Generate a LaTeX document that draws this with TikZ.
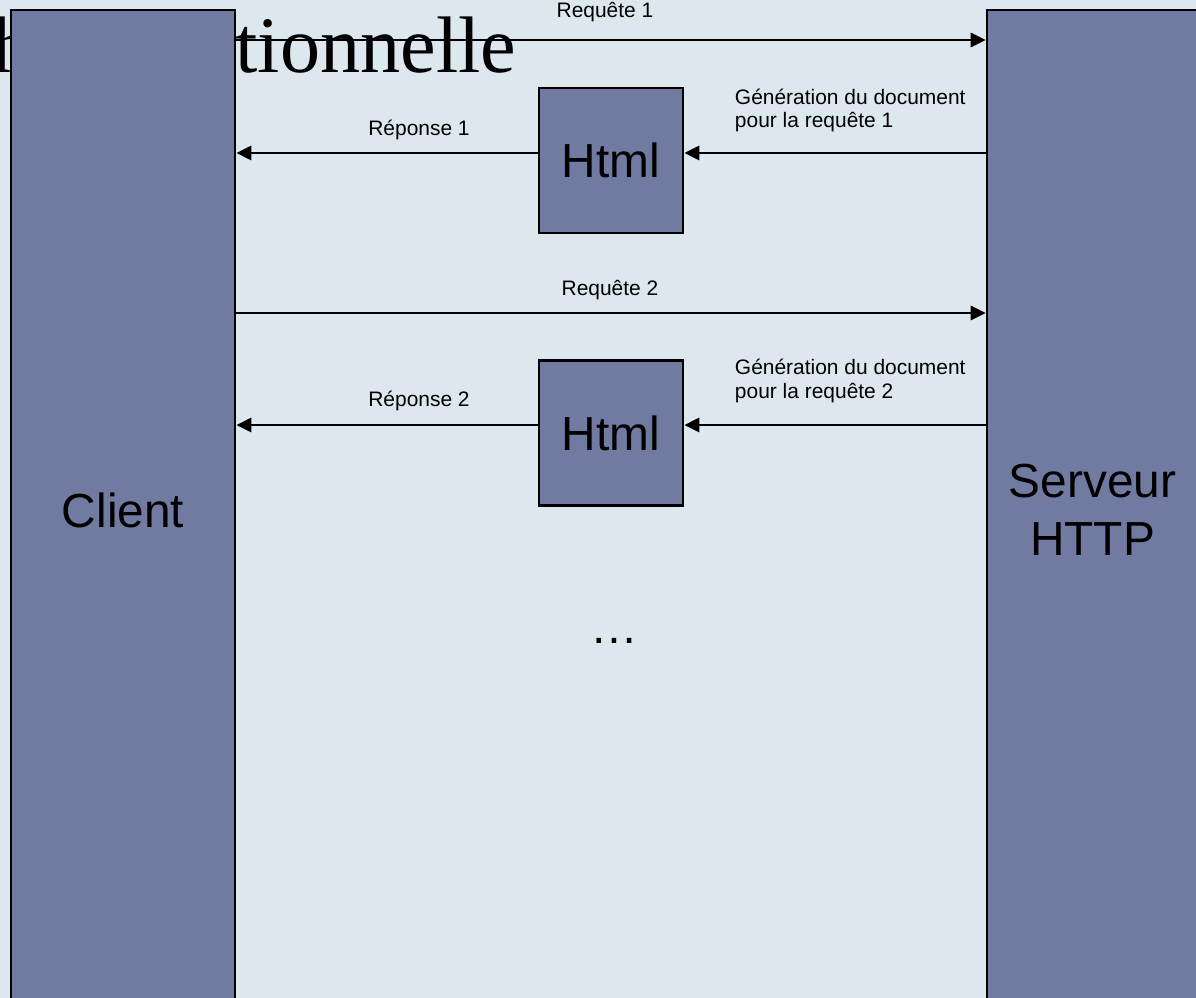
\documentclass[tikz,border=0pt]{standalone}
\usepackage{fontspec}
\setmainfont{Liberation Sans}
\newfontfamily\titrefont{Liberation Serif}
\usetikzlibrary{arrows.meta}
\definecolor{fondbleu}{RGB}{221,232,238}
\definecolor{boitebleu}{RGB}{113,122,161}
\begin{document}
\begin{tikzpicture}[x=0.025cm, y=-0.025cm, >={Triangle[length=10.6pt,width=10pt]}, font=\fontsize{14.9}{16.7}\selectfont]
	\tikzset{boite/.style={draw=black, line width=1.9pt, fill=boitebleu, inner sep=0pt, align=center, font=\fontsize{34}{41}\selectfont},
		fleche/.style={->, line width=1.8pt}}
	\fill[fondbleu] (0,0) rectangle (1196,998);
	\useasboundingbox (0,0) rectangle (1196,998);
	\node[anchor=base east, font=\titrefont\fontsize{57}{60}\selectfont] (titre) at (521,73) {Approche traditionnelle};
	\node[boite, minimum width=5.6cm, minimum height=25cm] (client) at (123,510) {Client};
	\node[boite, minimum width=5.275cm, minimum height=25cm] (serveur) at (1092.5,510) {Serveur\\HTTP};
	\node[boite, minimum width=3.6cm, minimum height=3.625cm] (html1) at (611,160.5) {Html};
	\node[boite, minimum width=3.6cm, minimum height=3.625cm] (html2) at (611,433) {Html};
	\draw[fleche] (client.east |- 0,40) -- (serveur.west |- 0,40);
	\draw[fleche] (serveur.west |- 0,153) -- (html1.east |- 0,153);
	\draw[fleche] (html1.west |- 0,153) -- (client.east |- 0,153);
	\draw[fleche] (client.east |- 0,313) -- (serveur.west |- 0,313);
	\draw[fleche] (serveur.west |- 0,425) -- (html2.east |- 0,425);
	\draw[fleche] (html2.west |- 0,425) -- (client.east |- 0,425);
	\node (req1) at (605,12) {Requête 1};
	\node (rep1) at (419,130) {Réponse 1};
	\node[anchor=west, align=left] (gen1) at (730,110.5) {Génération du document\\pour la requête 1};
	\node (req2) at (610,290) {Requête 2};
	\node (rep2) at (419,401) {Réponse 2};
	\node[anchor=west, align=left] (gen2) at (730,381) {Génération du document\\pour la requête 2};
	\node[anchor=base, font=\fontsize{34}{41}\selectfont] (suite) at (614,643) {…};
\end{tikzpicture}
\end{document}
